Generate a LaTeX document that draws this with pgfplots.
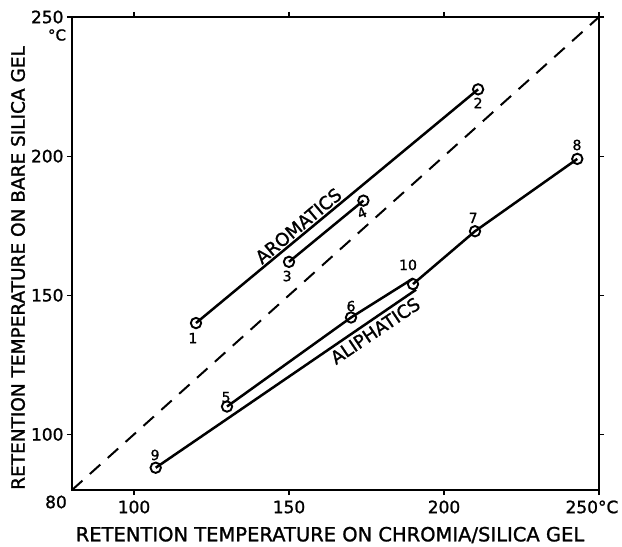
\documentclass[border=0pt]{standalone}
\usepackage{fontspec}
\setmainfont{DejaVu Sans}[UprightFeatures={FakeBold=1.2}]
\usepackage{pgfplots}
\pgfplotsset{compat=1.18}
\pgfplotsset{dat/.style={black, line width=2.5pt, mark=o, mark size=5.2pt,
     mark options={fill=white, line width=1.9pt, solid}}}
\begin{document}
\begin{tikzpicture}
\begin{axis}[
  scale only axis, width=527pt, height=473pt,
  xmin=80, xmax=250, ymin=80, ymax=250,
  xtick={100,150,200,250}, ytick={100,150,200,250},
  xticklabels={100,150,200,\hspace*{-14pt}250°C},
  tick align=outside, major tick length=5pt,
  tick style={line width=1.2pt, black},
  ticklabel style={font=\fontsize{17}{17}\selectfont},
  xticklabel style={yshift=-2pt},
  /pgf/number format/assume math mode=true,
  clip=false,
]
\coordinate (sw) at (rel axis cs:0,0);
\coordinate (ne) at (rel axis cs:1,1);
% diagonal
\addplot[black, no marks, dash pattern=on 14pt off 10pt, line width=2pt] coordinates {(80,80) (250,250)};
% aromatics
\addplot[dat] coordinates {(120,140) (211,224)};
\addplot[dat] coordinates {(150,162) (174,184)};
% aliphatics
\addplot[dat, mark indices={1,2}] coordinates {(130,110) (170,142) (190,156)};
\addplot[dat, mark indices={1}] coordinates {(107,88) (191,152)};
\addplot[dat] coordinates {(190,154) (210,173) (243,199)};
% point numbers
\begin{scope}[every node/.style={font=\fontsize{14}{14}\selectfont, inner sep=0pt}]
\node at (axis cs:119,134.6) {1};
\node at (axis cs:211,219.1) {2};
\node at (axis cs:149.4,156.9) {3};
\node[rotate=25] at (axis cs:173.5,179.6) {4};
\node at (axis cs:129.7,113.4) {5};
\node at (axis cs:170,146.1) {6};
\node at (axis cs:209.4,177.8) {7};
\node at (axis cs:242.9,204.0) {8};
\node at (axis cs:106.8,92.6) {9};
\node at (axis cs:188.4,160.9) {10};
\end{scope}
\node[font=\fontsize{18}{18}\selectfont, rotate=40, anchor=south, inner sep=2.5pt] at (axis cs:155,172.3) {AROMATICS};
\node[font=\fontsize{18}{18}\selectfont, rotate=34, anchor=north, inner sep=3pt] at (axis cs:176,140.2) {ALIPHATICS};
\end{axis}
\draw[line width=2.6pt] (sw) rectangle (ne);
\node[font=\fontsize{17}{17}\selectfont] at ([shift={(-16pt,-12pt)}]sw) {80};
\node[font=\fontsize{15}{15}\selectfont] at ([shift={(-542pt,-18pt)}]ne) {°C};
\node[font=\fontsize{19.5}{19.5}\selectfont] at ([shift={(258pt,-45pt)}]sw) {RETENTION TEMPERATURE ON CHROMIA/SILICA GEL};
\node[font=\fontsize{18.5}{18.5}\selectfont, rotate=90] at ([shift={(-54pt,222pt)}]sw) {RETENTION TEMPERATURE ON BARE SILICA GEL};
\pgfresetboundingbox
\path[use as bounding box] ([shift={(-72pt,-56pt)}]sw) rectangle ([shift={(23pt,17pt)}]ne);
\end{tikzpicture}
\end{document}
